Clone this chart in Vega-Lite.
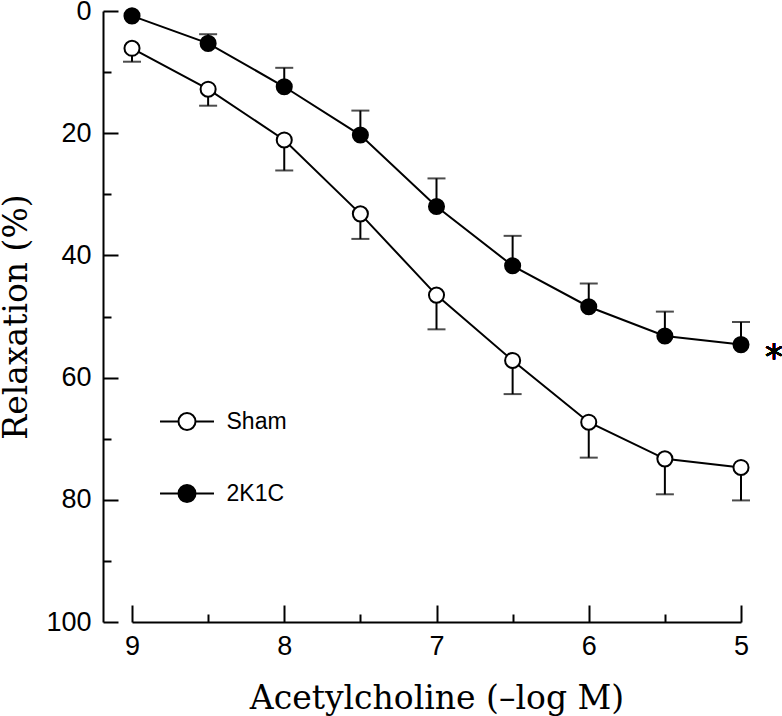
{
  "$schema": "https://vega.github.io/schema/vega-lite/v6.json",
  "autosize": "none",
  "width": 609,
  "height": 611,
  "padding": {"left": 132, "top": 11, "right": 41, "bottom": 94},
  "background": "white",
  "config": {
    "view": {"stroke": null},
    "axis": {
      "domainColor": "black", "domainWidth": 2, "tickColor": "black", "tickWidth": 2,
      "labelColor": "black", "labelFont": "Liberation Sans", "labelFontSize": 27,
      "titleColor": "black", "titleFont": "DejaVu Serif", "titleFontSize": 33, "titleFontWeight": "normal",
      "grid": false, "labelFlush": false, "labelOverlap": false
    }
  },
  "data": {
    "values": [
      {"x": 9, "group": "Sham", "mean": 6.1, "cap": 8.3},
      {"x": 8.5, "group": "Sham", "mean": 12.8, "cap": 15.5},
      {"x": 8, "group": "Sham", "mean": 21.1, "cap": 26.1},
      {"x": 7.5, "group": "Sham", "mean": 33.2, "cap": 37.3},
      {"x": 7, "group": "Sham", "mean": 46.5, "cap": 52.1},
      {"x": 6.5, "group": "Sham", "mean": 57.2, "cap": 62.7},
      {"x": 6, "group": "Sham", "mean": 67.3, "cap": 73.1},
      {"x": 5.5, "group": "Sham", "mean": 73.3, "cap": 79.1},
      {"x": 5, "group": "Sham", "mean": 74.7, "cap": 80.1},
      {"x": 9, "group": "2K1C", "mean": 0.8, "cap": null},
      {"x": 8.5, "group": "2K1C", "mean": 5.3, "cap": 3.8},
      {"x": 8, "group": "2K1C", "mean": 12.4, "cap": 9.3},
      {"x": 7.5, "group": "2K1C", "mean": 20.3, "cap": 16.3},
      {"x": 7, "group": "2K1C", "mean": 32.0, "cap": 27.4},
      {"x": 6.5, "group": "2K1C", "mean": 41.7, "cap": 36.8},
      {"x": 6, "group": "2K1C", "mean": 48.4, "cap": 44.6},
      {"x": 5.5, "group": "2K1C", "mean": 53.2, "cap": 49.2},
      {"x": 5, "group": "2K1C", "mean": 54.6, "cap": 50.9}
    ]
  },
  "encoding": {
    "x": {
      "field": "x", "type": "quantitative",
      "scale": {"domain": [5, 9], "reverse": true, "nice": false, "zero": false},
      "axis": {
        "title": "Acetylcholine (\u2013log M)",
        "values": [9, 8.5, 8, 7.5, 7, 6.5, 6, 5.5, 5],
        "tickSize": {"condition": {"test": "datum.value % 1 === 0", "value": -17}, "value": -8},
        "labelExpr": "datum.value % 1 === 0 ? format(datum.value, 'd') : ''",
        "labelPadding": 28,
        "titlePadding": 14
      }
    },
    "y": {
      "field": "mean", "type": "quantitative",
      "scale": {"domain": [0, 100], "reverse": true, "nice": false, "zero": false},
      "axis": {
        "title": "Relaxation (%)",
        "offset": 29,
        "values": [0, 10, 20, 30, 40, 50, 60, 70, 80, 90, 100],
        "tickSize": {"condition": {"test": "datum.value % 20 === 0", "value": -15}, "value": -8},
        "labelExpr": "datum.value % 20 === 0 ? datum.label : ''",
        "labelPadding": 27,
        "titlePadding": 12
      }
    }
  },
  "layer": [
    {
      "mark": {"type": "line", "color": "black", "strokeWidth": 2},
      "encoding": {"detail": {"field": "group"}}
    },
    {
      "transform": [{"filter": "datum.cap != null"}],
      "mark": {"type": "rule", "color": "black", "strokeWidth": 2},
      "encoding": {"y2": {"field": "cap"}}
    },
    {
      "transform": [{"filter": "datum.cap != null"}],
      "mark": {"type": "tick", "orient": "horizontal", "color": "black", "size": 18, "thickness": 2},
      "encoding": {"y": {"field": "cap", "type": "quantitative"}}
    },
    {
      "mark": {"type": "point", "filled": true, "stroke": "black", "strokeWidth": 2, "size": 227, "opacity": 1},
      "encoding": {
        "fill": {
          "field": "group", "type": "nominal",
          "scale": {"domain": ["Sham", "2K1C"], "range": ["white", "black"]},
          "legend": {
            "title": null,
            "orient": "none",
            "legendX": 43.5,
            "legendY": 399,
            "padding": 0,
            "symbolType": "M-3.58,0L-1.13,0A1.13,1.13,0,1,1,1.13,0A1.13,1.13,0,1,1,-1.13,0M1.13,0L3.58,0",
            "symbolSize": 227,
            "symbolStrokeColor": "black",
            "symbolStrokeWidth": 2,
            "symbolOpacity": 1,
            "labelFont": "Liberation Sans",
            "labelFontSize": 23,
            "labelColor": "black",
            "labelOffset": 28,
            "rowPadding": 45
          }
        }
      }
    },
    {
      "mark": {"type": "text", "text": "*", "font": "DejaVu Sans", "fontSize": 36, "fill": "black", "align": "center", "baseline": "alphabetic", "dx": 33, "dy": 24},
      "encoding": {"x": {"datum": 5}, "y": {"datum": 54.6}}
    }
  ]
}
